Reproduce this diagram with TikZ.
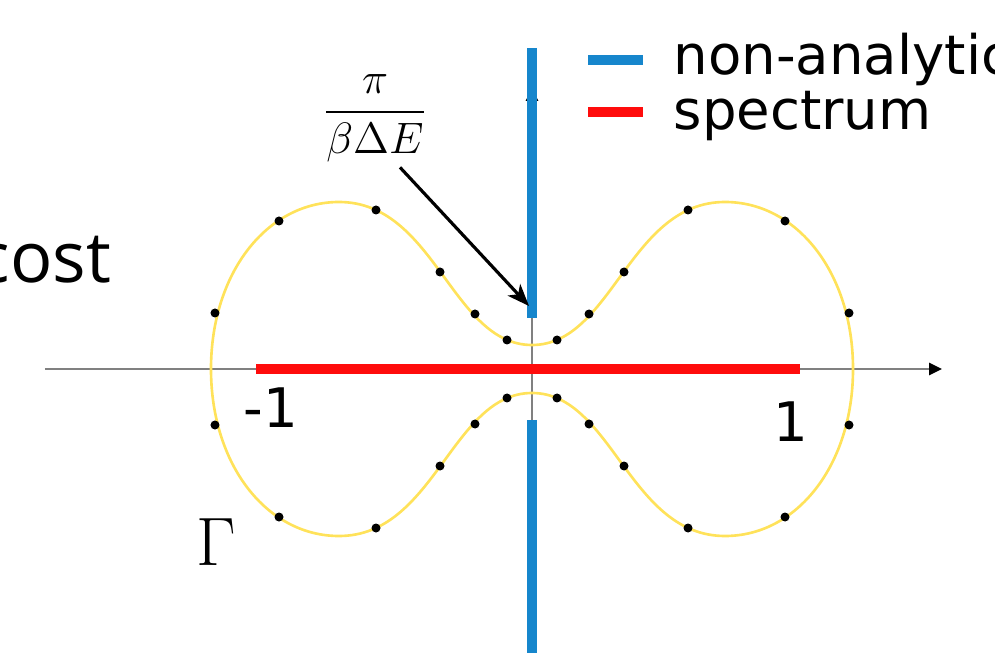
\RequirePackage{fix-cm}
\documentclass[tikz,border=0pt]{standalone}
\usepackage{amsmath}
\usepackage{fontspec}
\setsansfont{DejaVu Sans}
\newfontfamily\costfont{Open Sans}
\usepackage{tikz}
\usetikzlibrary{arrows.meta,positioning,calc}
\definecolor{cutblue}{RGB}{22,134,204}
\definecolor{specred}{RGB}{255,12,12}
\definecolor{gammayellow}{RGB}{255,226,90}

\begin{document}
\begin{tikzpicture}[
  x=0.01cm, y=0.01cm,
  axis/.style={draw=gray, line width=0.75pt,
    -{Triangle[length=1.3mm, width=1.2mm, color=black]}},
  cutline/.style={draw=cutblue, line width=2.6pt},
  specline/.style={draw=specred, line width=3pt},
  contour/.style={draw=gammayellow, line width=0.75pt},
  sanstext/.style={font=\sffamily\fontsize{15.5}{18}\selectfont, inner sep=0pt},
  pointer/.style={-{Stealth[length=2.2mm, width=1.7mm, inset=0.6mm]}, line width=0.9pt}
]
\useasboundingbox (-532,-283) rectangle (463,369);
\clip (-532,-283) rectangle (463,369);
\coordinate (xfrom) at (-487,0);
\coordinate (xto) at (410,0);
\coordinate (yfrom) at (0,-300);
\coordinate (yto) at (0,281);
\draw[axis] (xfrom) -- (xto);
\draw[axis] (yfrom) -- (yto);
\draw[contour] (321,0) .. controls (321,96) and (265,167) .. (193,167)
  .. controls (97,167) and (80,24) .. (0,24)
  .. controls (-80,24) and (-97,167) .. (-193,167)
  .. controls (-265,167) and (-321,96) .. (-321,0)
  .. controls (-321,-96) and (-265,-167) .. (-193,-167)
  .. controls (-97,-167) and (-80,-24) .. (0,-24)
  .. controls (80,-24) and (97,-167) .. (193,-167)
  .. controls (265,-167) and (321,-96) .. (321,0) -- cycle;
\coordinate (specfrom) at (-276,0);
\coordinate (specto) at (268,0);
\draw[specline] (specfrom) -- (specto);
\coordinate (gaptop) at (0,51);
\coordinate (gapbottom) at (0,-51);
\coordinate (cuttop) at (0,321);
\coordinate (cutbottom) at (0,-300);
\draw[cutline] (gaptop) -- (cuttop);
\draw[cutline] (gapbottom) -- (cutbottom);
\foreach \px/\py in {25/29, 57/55, 92/97, 156/159, 253/148, 317/56} {
  \fill (\px,\py) circle (4.5);
  \fill (-\px,\py) circle (4.5);
  \fill (\px,-\py) circle (4.5);
  \fill (-\px,-\py) circle (4.5);
}
\coordinate (keyone) at (56,309);
\coordinate (keytwo) at (56,257);
\draw[cutline] (keyone) -- ++(55,0);
\draw[specline] (keytwo) -- ++(55,0);
\node[sanstext, anchor=base west] (nakey) at (141,294) {non-analytic};
\node[sanstext, anchor=base west] (speckey) at (141,239) {spectrum};
\node[sanstext, anchor=base west] (mone) at (-289,-58) {-1};
\node[sanstext, anchor=base] (one) at (259,-72) {1};
\node[font=\fontsize{19.5}{22}\selectfont, inner sep=0pt, anchor=base] (gamma)
  at (-316,-196) {$\Gamma$};
\node[font=\costfont\fontsize{20}{24}\selectfont, inner sep=0pt, anchor=base east] (cost)
  at (-420,86) {cost};
\node[font=\fontsize{12.5}{15}\selectfont, inner sep=0pt] (frac)
  at (-157,251) {$\displaystyle\frac{\pi}{\beta\Delta E}$};
\coordinate (gaptip) at (-3,63);
\draw[pointer] ([xshift=0.25cm, yshift=-0.05cm]frac.south) -- (gaptip);
\end{tikzpicture}
\end{document}
